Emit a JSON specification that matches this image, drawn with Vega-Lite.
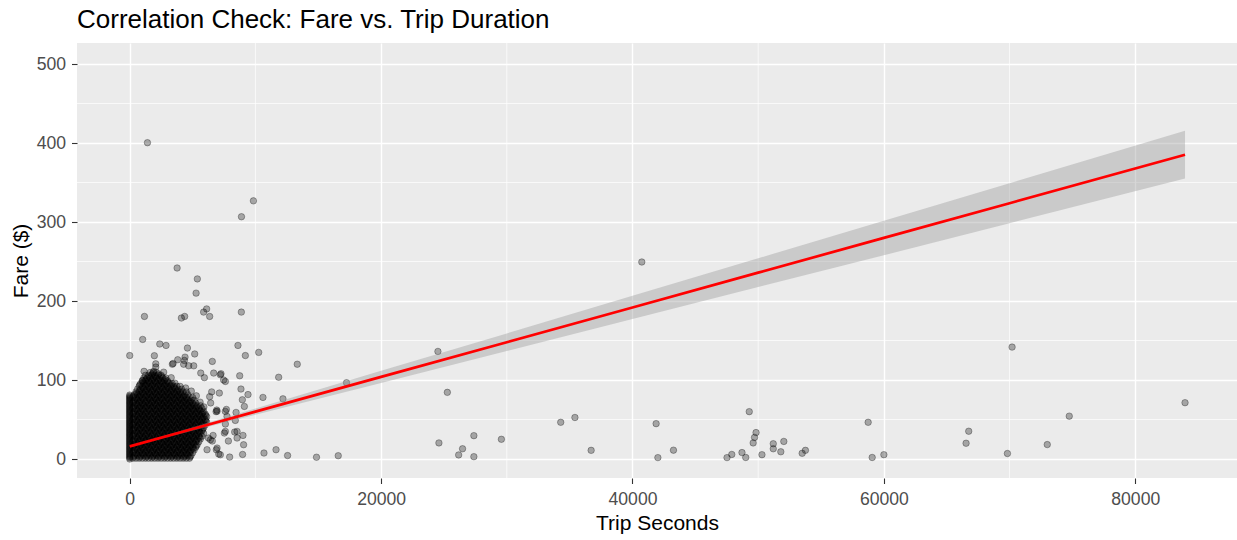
{
  "$schema": "https://vega.github.io/schema/vega-lite/v6.json",
  "width": 1160,
  "height": 435,
  "autosize": {"type": "none"},
  "padding": {"left": 77, "top": 43, "right": 0, "bottom": 62},
  "background": "#FFFFFF",
  "title": {
    "text": "Correlation Check: Fare vs. Trip Duration",
    "anchor": "start",
    "frame": "group",
    "font": "Liberation Sans",
    "fontSize": 26,
    "fontWeight": "normal",
    "color": "#000000",
    "offset": 10
  },
  "config": {
    "font": "Liberation Sans",
    "view": {"fill": "#EBEBEB", "stroke": null},
    "axis": {
      "grid": true, "gridColor": "#FFFFFF", "gridWidth": 1.4,
      "domain": false, "tickColor": "#333333", "tickSize": 5.5, "tickWidth": 1.1,
      "labelFont": "Liberation Sans", "labelFontSize": 17.6, "labelColor": "#4D4D4D", "labelFlush": false, "labelOverlap": false,
      "titleFont": "Liberation Sans", "titleFontSize": 21, "titleFontWeight": "normal", "titleColor": "#000000", "format": "d"
    },
    "axisX": {"labelPadding": 7, "titlePadding": 4},
    "axisY": {"labelPadding": 6, "titlePadding": 5}
  },
  "datasets": {
    "gridx": [{"sec": 10000}, {"sec": 30000}, {"sec": 50000}, {"sec": 70000}],
    "gridy": [{"fare": 50}, {"fare": 150}, {"fare": 250}, {"fare": 350}, {"fare": 450}],
    "fit": [
      {"sec": 0, "fit": 16.0, "lo": 15.5, "hi": 16.5},
      {"sec": 5000, "fit": 38.0, "lo": 35.7, "hi": 40.3},
      {"sec": 10000, "fit": 60.0, "lo": 56.0, "hi": 64.0},
      {"sec": 20000, "fit": 104.0, "lo": 96.4, "hi": 111.6},
      {"sec": 30000, "fit": 147.9, "lo": 136.8, "hi": 159.0},
      {"sec": 40000, "fit": 191.9, "lo": 177.2, "hi": 206.6},
      {"sec": 50000, "fit": 235.9, "lo": 217.7, "hi": 254.1},
      {"sec": 60000, "fit": 279.9, "lo": 258.1, "hi": 301.6},
      {"sec": 70000, "fit": 323.8, "lo": 298.5, "hi": 349.1},
      {"sec": 83960, "fit": 385.2, "lo": 355.0, "hi": 415.4}
    ],
    "trips": [
      {"sec":0,"fare":0},{"sec":0,"fare":1.5},{"sec":0,"fare":3},{"sec":0,"fare":4.5},{"sec":0,"fare":6},{"sec":0,"fare":7.5},{"sec":0,"fare":9},{"sec":0,"fare":10.5},{"sec":0,"fare":12},{"sec":0,"fare":13.5},{"sec":0,"fare":15},{"sec":0,"fare":16.5},{"sec":0,"fare":18},{"sec":0,"fare":19.5},{"sec":0,"fare":21},{"sec":0,"fare":22.5},{"sec":0,"fare":24},{"sec":0,"fare":25.5},{"sec":0,"fare":27},{"sec":0,"fare":28.5},{"sec":0,"fare":30},{"sec":0,"fare":31.5},{"sec":0,"fare":33},{"sec":0,"fare":34.5},{"sec":0,"fare":36},{"sec":0,"fare":37.5},{"sec":0,"fare":39},{"sec":0,"fare":40.5},{"sec":0,"fare":42},{"sec":0,"fare":43.5},{"sec":0,"fare":45},{"sec":0,"fare":46.5},{"sec":0,"fare":48},{"sec":0,"fare":49.5},{"sec":0,"fare":51},{"sec":0,"fare":52.5},{"sec":0,"fare":54},{"sec":0,"fare":55.5},{"sec":0,"fare":57},{"sec":0,"fare":58.5},{"sec":0,"fare":60},{"sec":0,"fare":61.5},{"sec":0,"fare":63},{"sec":0,"fare":64.5},{"sec":0,"fare":66},{"sec":0,"fare":67.5},{"sec":0,"fare":69},{"sec":0,"fare":70.5},{"sec":0,"fare":72},{"sec":0,"fare":73.5},{"sec":0,"fare":75},{"sec":0,"fare":76.5},{"sec":0,"fare":78},{"sec":0,"fare":79.5},{"sec":0,"fare":81},

      {"sec":250,"fare":1},{"sec":500,"fare":1},{"sec":750,"fare":1},{"sec":1000,"fare":1},{"sec":1250,"fare":1},{"sec":1500,"fare":1},{"sec":1750,"fare":1},{"sec":2000,"fare":1},{"sec":2250,"fare":1},{"sec":2500,"fare":1},{"sec":2750,"fare":1},{"sec":3000,"fare":1},{"sec":3250,"fare":1},{"sec":3500,"fare":1},{"sec":3750,"fare":1},{"sec":4000,"fare":1},{"sec":4250,"fare":1},{"sec":4500,"fare":1},{"sec":4750,"fare":1},
      {"sec":375,"fare":4.5},{"sec":625,"fare":4.5},{"sec":875,"fare":4.5},{"sec":1125,"fare":4.5},{"sec":1375,"fare":4.5},{"sec":1625,"fare":4.5},{"sec":1875,"fare":4.5},{"sec":2125,"fare":4.5},{"sec":2375,"fare":4.5},{"sec":2625,"fare":4.5},{"sec":2875,"fare":4.5},{"sec":3125,"fare":4.5},{"sec":3375,"fare":4.5},{"sec":3625,"fare":4.5},{"sec":3875,"fare":4.5},{"sec":4125,"fare":4.5},{"sec":4375,"fare":4.5},{"sec":4625,"fare":4.5},{"sec":4875,"fare":4.5},
      {"sec":250,"fare":8},{"sec":500,"fare":8},{"sec":750,"fare":8},{"sec":1000,"fare":8},{"sec":1250,"fare":8},{"sec":1500,"fare":8},{"sec":1750,"fare":8},{"sec":2000,"fare":8},{"sec":2250,"fare":8},{"sec":2500,"fare":8},{"sec":2750,"fare":8},{"sec":3000,"fare":8},{"sec":3250,"fare":8},{"sec":3500,"fare":8},{"sec":3750,"fare":8},{"sec":4000,"fare":8},{"sec":4250,"fare":8},{"sec":4500,"fare":8},{"sec":4750,"fare":8},{"sec":5000,"fare":8},
      {"sec":375,"fare":11.5},{"sec":625,"fare":11.5},{"sec":875,"fare":11.5},{"sec":1125,"fare":11.5},{"sec":1375,"fare":11.5},{"sec":1625,"fare":11.5},{"sec":1875,"fare":11.5},{"sec":2125,"fare":11.5},{"sec":2375,"fare":11.5},{"sec":2625,"fare":11.5},{"sec":2875,"fare":11.5},{"sec":3125,"fare":11.5},{"sec":3375,"fare":11.5},{"sec":3625,"fare":11.5},{"sec":3875,"fare":11.5},{"sec":4125,"fare":11.5},{"sec":4375,"fare":11.5},{"sec":4625,"fare":11.5},{"sec":4875,"fare":11.5},{"sec":5125,"fare":11.5},
      {"sec":250,"fare":15},{"sec":500,"fare":15},{"sec":750,"fare":15},{"sec":1000,"fare":15},{"sec":1250,"fare":15},{"sec":1500,"fare":15},{"sec":1750,"fare":15},{"sec":2000,"fare":15},{"sec":2250,"fare":15},{"sec":2500,"fare":15},{"sec":2750,"fare":15},{"sec":3000,"fare":15},{"sec":3250,"fare":15},{"sec":3500,"fare":15},{"sec":3750,"fare":15},{"sec":4000,"fare":15},{"sec":4250,"fare":15},{"sec":4500,"fare":15},{"sec":4750,"fare":15},{"sec":5000,"fare":15},{"sec":5250,"fare":15},
      {"sec":375,"fare":18.5},{"sec":625,"fare":18.5},{"sec":875,"fare":18.5},{"sec":1125,"fare":18.5},{"sec":1375,"fare":18.5},{"sec":1625,"fare":18.5},{"sec":1875,"fare":18.5},{"sec":2125,"fare":18.5},{"sec":2375,"fare":18.5},{"sec":2625,"fare":18.5},{"sec":2875,"fare":18.5},{"sec":3125,"fare":18.5},{"sec":3375,"fare":18.5},{"sec":3625,"fare":18.5},{"sec":3875,"fare":18.5},{"sec":4125,"fare":18.5},{"sec":4375,"fare":18.5},{"sec":4625,"fare":18.5},{"sec":4875,"fare":18.5},{"sec":5125,"fare":18.5},{"sec":5375,"fare":18.5},
      {"sec":250,"fare":22},{"sec":500,"fare":22},{"sec":750,"fare":22},{"sec":1000,"fare":22},{"sec":1250,"fare":22},{"sec":1500,"fare":22},{"sec":1750,"fare":22},{"sec":2000,"fare":22},{"sec":2250,"fare":22},{"sec":2500,"fare":22},{"sec":2750,"fare":22},{"sec":3000,"fare":22},{"sec":3250,"fare":22},{"sec":3500,"fare":22},{"sec":3750,"fare":22},{"sec":4000,"fare":22},{"sec":4250,"fare":22},{"sec":4500,"fare":22},{"sec":4750,"fare":22},{"sec":5000,"fare":22},{"sec":5250,"fare":22},{"sec":5500,"fare":22},
      {"sec":375,"fare":25.5},{"sec":625,"fare":25.5},{"sec":875,"fare":25.5},{"sec":1125,"fare":25.5},{"sec":1375,"fare":25.5},{"sec":1625,"fare":25.5},{"sec":1875,"fare":25.5},{"sec":2125,"fare":25.5},{"sec":2375,"fare":25.5},{"sec":2625,"fare":25.5},{"sec":2875,"fare":25.5},{"sec":3125,"fare":25.5},{"sec":3375,"fare":25.5},{"sec":3625,"fare":25.5},{"sec":3875,"fare":25.5},{"sec":4125,"fare":25.5},{"sec":4375,"fare":25.5},{"sec":4625,"fare":25.5},{"sec":4875,"fare":25.5},{"sec":5125,"fare":25.5},{"sec":5375,"fare":25.5},{"sec":5625,"fare":25.5},
      {"sec":250,"fare":29},{"sec":500,"fare":29},{"sec":750,"fare":29},{"sec":1000,"fare":29},{"sec":1250,"fare":29},{"sec":1500,"fare":29},{"sec":1750,"fare":29},{"sec":2000,"fare":29},{"sec":2250,"fare":29},{"sec":2500,"fare":29},{"sec":2750,"fare":29},{"sec":3000,"fare":29},{"sec":3250,"fare":29},{"sec":3500,"fare":29},{"sec":3750,"fare":29},{"sec":4000,"fare":29},{"sec":4250,"fare":29},{"sec":4500,"fare":29},{"sec":4750,"fare":29},{"sec":5000,"fare":29},{"sec":5250,"fare":29},{"sec":5500,"fare":29},{"sec":5750,"fare":29},
      {"sec":375,"fare":32.5},{"sec":625,"fare":32.5},{"sec":875,"fare":32.5},{"sec":1125,"fare":32.5},{"sec":1375,"fare":32.5},{"sec":1625,"fare":32.5},{"sec":1875,"fare":32.5},{"sec":2125,"fare":32.5},{"sec":2375,"fare":32.5},{"sec":2625,"fare":32.5},{"sec":2875,"fare":32.5},{"sec":3125,"fare":32.5},{"sec":3375,"fare":32.5},{"sec":3625,"fare":32.5},{"sec":3875,"fare":32.5},{"sec":4125,"fare":32.5},{"sec":4375,"fare":32.5},{"sec":4625,"fare":32.5},{"sec":4875,"fare":32.5},{"sec":5125,"fare":32.5},{"sec":5375,"fare":32.5},{"sec":5625,"fare":32.5},{"sec":5875,"fare":32.5},
      {"sec":250,"fare":36},{"sec":500,"fare":36},{"sec":750,"fare":36},{"sec":1000,"fare":36},{"sec":1250,"fare":36},{"sec":1500,"fare":36},{"sec":1750,"fare":36},{"sec":2000,"fare":36},{"sec":2250,"fare":36},{"sec":2500,"fare":36},{"sec":2750,"fare":36},{"sec":3000,"fare":36},{"sec":3250,"fare":36},{"sec":3500,"fare":36},{"sec":3750,"fare":36},{"sec":4000,"fare":36},{"sec":4250,"fare":36},{"sec":4500,"fare":36},{"sec":4750,"fare":36},{"sec":5000,"fare":36},{"sec":5250,"fare":36},{"sec":5500,"fare":36},{"sec":5750,"fare":36},
      {"sec":375,"fare":39.5},{"sec":625,"fare":39.5},{"sec":875,"fare":39.5},{"sec":1125,"fare":39.5},{"sec":1375,"fare":39.5},{"sec":1625,"fare":39.5},{"sec":1875,"fare":39.5},{"sec":2125,"fare":39.5},{"sec":2375,"fare":39.5},{"sec":2625,"fare":39.5},{"sec":2875,"fare":39.5},{"sec":3125,"fare":39.5},{"sec":3375,"fare":39.5},{"sec":3625,"fare":39.5},{"sec":3875,"fare":39.5},{"sec":4125,"fare":39.5},{"sec":4375,"fare":39.5},{"sec":4625,"fare":39.5},{"sec":4875,"fare":39.5},{"sec":5125,"fare":39.5},{"sec":5375,"fare":39.5},{"sec":5625,"fare":39.5},{"sec":5875,"fare":39.5},
      {"sec":250,"fare":43},{"sec":500,"fare":43},{"sec":750,"fare":43},{"sec":1000,"fare":43},{"sec":1250,"fare":43},{"sec":1500,"fare":43},{"sec":1750,"fare":43},{"sec":2000,"fare":43},{"sec":2250,"fare":43},{"sec":2500,"fare":43},{"sec":2750,"fare":43},{"sec":3000,"fare":43},{"sec":3250,"fare":43},{"sec":3500,"fare":43},{"sec":3750,"fare":43},{"sec":4000,"fare":43},{"sec":4250,"fare":43},{"sec":4500,"fare":43},{"sec":4750,"fare":43},{"sec":5000,"fare":43},{"sec":5250,"fare":43},{"sec":5500,"fare":43},{"sec":5750,"fare":43},{"sec":6000,"fare":43},
      {"sec":375,"fare":46.5},{"sec":625,"fare":46.5},{"sec":875,"fare":46.5},{"sec":1125,"fare":46.5},{"sec":1375,"fare":46.5},{"sec":1625,"fare":46.5},{"sec":1875,"fare":46.5},{"sec":2125,"fare":46.5},{"sec":2375,"fare":46.5},{"sec":2625,"fare":46.5},{"sec":2875,"fare":46.5},{"sec":3125,"fare":46.5},{"sec":3375,"fare":46.5},{"sec":3625,"fare":46.5},{"sec":3875,"fare":46.5},{"sec":4125,"fare":46.5},{"sec":4375,"fare":46.5},{"sec":4625,"fare":46.5},{"sec":4875,"fare":46.5},{"sec":5125,"fare":46.5},{"sec":5375,"fare":46.5},{"sec":5625,"fare":46.5},{"sec":5875,"fare":46.5},{"sec":6125,"fare":46.5},
      {"sec":250,"fare":50},{"sec":500,"fare":50},{"sec":750,"fare":50},{"sec":1000,"fare":50},{"sec":1250,"fare":50},{"sec":1500,"fare":50},{"sec":1750,"fare":50},{"sec":2000,"fare":50},{"sec":2250,"fare":50},{"sec":2500,"fare":50},{"sec":2750,"fare":50},{"sec":3000,"fare":50},{"sec":3250,"fare":50},{"sec":3500,"fare":50},{"sec":3750,"fare":50},{"sec":4000,"fare":50},{"sec":4250,"fare":50},{"sec":4500,"fare":50},{"sec":4750,"fare":50},{"sec":5000,"fare":50},{"sec":5250,"fare":50},{"sec":5500,"fare":50},{"sec":5750,"fare":50},{"sec":6000,"fare":50},
      {"sec":375,"fare":53.5},{"sec":625,"fare":53.5},{"sec":875,"fare":53.5},{"sec":1125,"fare":53.5},{"sec":1375,"fare":53.5},{"sec":1625,"fare":53.5},{"sec":1875,"fare":53.5},{"sec":2125,"fare":53.5},{"sec":2375,"fare":53.5},{"sec":2625,"fare":53.5},{"sec":2875,"fare":53.5},{"sec":3125,"fare":53.5},{"sec":3375,"fare":53.5},{"sec":3625,"fare":53.5},{"sec":3875,"fare":53.5},{"sec":4125,"fare":53.5},{"sec":4375,"fare":53.5},{"sec":4625,"fare":53.5},{"sec":4875,"fare":53.5},{"sec":5125,"fare":53.5},{"sec":5375,"fare":53.5},{"sec":5625,"fare":53.5},{"sec":5875,"fare":53.5},{"sec":6125,"fare":53.5},
      {"sec":250,"fare":57},{"sec":500,"fare":57},{"sec":750,"fare":57},{"sec":1000,"fare":57},{"sec":1250,"fare":57},{"sec":1500,"fare":57},{"sec":1750,"fare":57},{"sec":2000,"fare":57},{"sec":2250,"fare":57},{"sec":2500,"fare":57},{"sec":2750,"fare":57},{"sec":3000,"fare":57},{"sec":3250,"fare":57},{"sec":3500,"fare":57},{"sec":3750,"fare":57},{"sec":4000,"fare":57},{"sec":4250,"fare":57},{"sec":4500,"fare":57},{"sec":4750,"fare":57},{"sec":5000,"fare":57},{"sec":5250,"fare":57},{"sec":5500,"fare":57},{"sec":5750,"fare":57},{"sec":6000,"fare":57},
      {"sec":375,"fare":60.5},{"sec":625,"fare":60.5},{"sec":875,"fare":60.5},{"sec":1125,"fare":60.5},{"sec":1375,"fare":60.5},{"sec":1625,"fare":60.5},{"sec":1875,"fare":60.5},{"sec":2125,"fare":60.5},{"sec":2375,"fare":60.5},{"sec":2625,"fare":60.5},{"sec":2875,"fare":60.5},{"sec":3125,"fare":60.5},{"sec":3375,"fare":60.5},{"sec":3625,"fare":60.5},{"sec":3875,"fare":60.5},{"sec":4125,"fare":60.5},{"sec":4375,"fare":60.5},{"sec":4625,"fare":60.5},{"sec":4875,"fare":60.5},{"sec":5125,"fare":60.5},{"sec":5375,"fare":60.5},{"sec":5625,"fare":60.5},{"sec":5875,"fare":60.5},
      {"sec":250,"fare":64},{"sec":500,"fare":64},{"sec":750,"fare":64},{"sec":1000,"fare":64},{"sec":1250,"fare":64},{"sec":1500,"fare":64},{"sec":1750,"fare":64},{"sec":2000,"fare":64},{"sec":2250,"fare":64},{"sec":2500,"fare":64},{"sec":2750,"fare":64},{"sec":3000,"fare":64},{"sec":3250,"fare":64},{"sec":3500,"fare":64},{"sec":3750,"fare":64},{"sec":4000,"fare":64},{"sec":4250,"fare":64},{"sec":4500,"fare":64},{"sec":4750,"fare":64},{"sec":5000,"fare":64},{"sec":5250,"fare":64},{"sec":5500,"fare":64},{"sec":5750,"fare":64},
      {"sec":375,"fare":67.5},{"sec":625,"fare":67.5},{"sec":875,"fare":67.5},{"sec":1125,"fare":67.5},{"sec":1375,"fare":67.5},{"sec":1625,"fare":67.5},{"sec":1875,"fare":67.5},{"sec":2125,"fare":67.5},{"sec":2375,"fare":67.5},{"sec":2625,"fare":67.5},{"sec":2875,"fare":67.5},{"sec":3125,"fare":67.5},{"sec":3375,"fare":67.5},{"sec":3625,"fare":67.5},{"sec":3875,"fare":67.5},{"sec":4125,"fare":67.5},{"sec":4375,"fare":67.5},{"sec":4625,"fare":67.5},{"sec":4875,"fare":67.5},{"sec":5125,"fare":67.5},{"sec":5375,"fare":67.5},{"sec":5625,"fare":67.5},
      {"sec":250,"fare":71},{"sec":500,"fare":71},{"sec":750,"fare":71},{"sec":1000,"fare":71},{"sec":1250,"fare":71},{"sec":1500,"fare":71},{"sec":1750,"fare":71},{"sec":2000,"fare":71},{"sec":2250,"fare":71},{"sec":2500,"fare":71},{"sec":2750,"fare":71},{"sec":3000,"fare":71},{"sec":3250,"fare":71},{"sec":3500,"fare":71},{"sec":3750,"fare":71},{"sec":4000,"fare":71},{"sec":4250,"fare":71},{"sec":4500,"fare":71},{"sec":4750,"fare":71},{"sec":5000,"fare":71},{"sec":5250,"fare":71},
      {"sec":375,"fare":74.5},{"sec":625,"fare":74.5},{"sec":875,"fare":74.5},{"sec":1125,"fare":74.5},{"sec":1375,"fare":74.5},{"sec":1625,"fare":74.5},{"sec":1875,"fare":74.5},{"sec":2125,"fare":74.5},{"sec":2375,"fare":74.5},{"sec":2625,"fare":74.5},{"sec":2875,"fare":74.5},{"sec":3125,"fare":74.5},{"sec":3375,"fare":74.5},{"sec":3625,"fare":74.5},{"sec":3875,"fare":74.5},{"sec":4125,"fare":74.5},{"sec":4375,"fare":74.5},{"sec":4625,"fare":74.5},{"sec":4875,"fare":74.5},{"sec":5125,"fare":74.5},
      {"sec":250,"fare":78},{"sec":500,"fare":78},{"sec":750,"fare":78},{"sec":1000,"fare":78},{"sec":1250,"fare":78},{"sec":1500,"fare":78},{"sec":1750,"fare":78},{"sec":2000,"fare":78},{"sec":2250,"fare":78},{"sec":2500,"fare":78},{"sec":2750,"fare":78},{"sec":3000,"fare":78},{"sec":3250,"fare":78},{"sec":3500,"fare":78},{"sec":3750,"fare":78},{"sec":4000,"fare":78},{"sec":4250,"fare":78},{"sec":4500,"fare":78},{"sec":4750,"fare":78},{"sec":5000,"fare":78},
      {"sec":375,"fare":81.5},{"sec":625,"fare":81.5},{"sec":875,"fare":81.5},{"sec":1125,"fare":81.5},{"sec":1375,"fare":81.5},{"sec":1625,"fare":81.5},{"sec":1875,"fare":81.5},{"sec":2125,"fare":81.5},{"sec":2375,"fare":81.5},{"sec":2625,"fare":81.5},{"sec":2875,"fare":81.5},{"sec":3125,"fare":81.5},{"sec":3375,"fare":81.5},{"sec":3625,"fare":81.5},{"sec":3875,"fare":81.5},{"sec":4125,"fare":81.5},{"sec":4375,"fare":81.5},{"sec":4625,"fare":81.5},
      {"sec":500,"fare":85},{"sec":750,"fare":85},{"sec":1000,"fare":85},{"sec":1250,"fare":85},{"sec":1500,"fare":85},{"sec":1750,"fare":85},{"sec":2000,"fare":85},{"sec":2250,"fare":85},{"sec":2500,"fare":85},{"sec":2750,"fare":85},{"sec":3000,"fare":85},{"sec":3250,"fare":85},{"sec":3500,"fare":85},{"sec":3750,"fare":85},{"sec":4000,"fare":85},{"sec":4250,"fare":85},{"sec":4500,"fare":85},
      {"sec":625,"fare":88.5},{"sec":875,"fare":88.5},{"sec":1125,"fare":88.5},{"sec":1375,"fare":88.5},{"sec":1625,"fare":88.5},{"sec":1875,"fare":88.5},{"sec":2125,"fare":88.5},{"sec":2375,"fare":88.5},{"sec":2625,"fare":88.5},{"sec":2875,"fare":88.5},{"sec":3125,"fare":88.5},{"sec":3375,"fare":88.5},{"sec":3625,"fare":88.5},{"sec":3875,"fare":88.5},{"sec":4125,"fare":88.5},
      {"sec":750,"fare":92},{"sec":1000,"fare":92},{"sec":1250,"fare":92},{"sec":1500,"fare":92},{"sec":1750,"fare":92},{"sec":2000,"fare":92},{"sec":2250,"fare":92},{"sec":2500,"fare":92},{"sec":2750,"fare":92},{"sec":3000,"fare":92},{"sec":3250,"fare":92},{"sec":3500,"fare":92},{"sec":3750,"fare":92},
      {"sec":875,"fare":95.5},{"sec":1125,"fare":95.5},{"sec":1375,"fare":95.5},{"sec":1625,"fare":95.5},{"sec":1875,"fare":95.5},{"sec":2125,"fare":95.5},{"sec":2375,"fare":95.5},{"sec":2625,"fare":95.5},{"sec":2875,"fare":95.5},{"sec":3125,"fare":95.5},{"sec":3375,"fare":95.5},
      {"sec":1000,"fare":99},{"sec":1250,"fare":99},{"sec":1500,"fare":99},{"sec":1750,"fare":99},{"sec":2000,"fare":99},{"sec":2250,"fare":99},{"sec":2500,"fare":99},{"sec":2750,"fare":99},{"sec":3000,"fare":99},
      {"sec":1125,"fare":102.5},{"sec":1375,"fare":102.5},{"sec":1625,"fare":102.5},{"sec":1875,"fare":102.5},{"sec":2125,"fare":102.5},{"sec":2375,"fare":102.5},{"sec":2625,"fare":102.5},{"sec":2875,"fare":102.5},
      {"sec":1250,"fare":106},{"sec":1500,"fare":106},{"sec":1750,"fare":106},{"sec":2000,"fare":106},{"sec":2250,"fare":106},{"sec":2500,"fare":106},
      {"sec":1625,"fare":109.5},{"sec":1875,"fare":109.5},{"sec":2125,"fare":109.5},

      {"sec":300,"fare":2.75},{"sec":800,"fare":2.75},{"sec":1300,"fare":2.75},{"sec":1800,"fare":2.75},{"sec":2300,"fare":2.75},{"sec":2800,"fare":2.75},{"sec":3300,"fare":2.75},{"sec":3800,"fare":2.75},{"sec":4300,"fare":2.75},{"sec":4800,"fare":2.75},
      {"sec":550,"fare":6.25},{"sec":1050,"fare":6.25},{"sec":1550,"fare":6.25},{"sec":2050,"fare":6.25},{"sec":2550,"fare":6.25},{"sec":3050,"fare":6.25},{"sec":3550,"fare":6.25},{"sec":4050,"fare":6.25},{"sec":4550,"fare":6.25},
      {"sec":300,"fare":9.75},{"sec":800,"fare":9.75},{"sec":1300,"fare":9.75},{"sec":1800,"fare":9.75},{"sec":2300,"fare":9.75},{"sec":2800,"fare":9.75},{"sec":3300,"fare":9.75},{"sec":3800,"fare":9.75},{"sec":4300,"fare":9.75},{"sec":4800,"fare":9.75},
      {"sec":550,"fare":13.25},{"sec":1050,"fare":13.25},{"sec":1550,"fare":13.25},{"sec":2050,"fare":13.25},{"sec":2550,"fare":13.25},{"sec":3050,"fare":13.25},{"sec":3550,"fare":13.25},{"sec":4050,"fare":13.25},{"sec":4550,"fare":13.25},{"sec":5050,"fare":13.25},
      {"sec":300,"fare":16.75},{"sec":800,"fare":16.75},{"sec":1300,"fare":16.75},{"sec":1800,"fare":16.75},{"sec":2300,"fare":16.75},{"sec":2800,"fare":16.75},{"sec":3300,"fare":16.75},{"sec":3800,"fare":16.75},{"sec":4300,"fare":16.75},{"sec":4800,"fare":16.75},{"sec":5300,"fare":16.75},
      {"sec":550,"fare":20.25},{"sec":1050,"fare":20.25},{"sec":1550,"fare":20.25},{"sec":2050,"fare":20.25},{"sec":2550,"fare":20.25},{"sec":3050,"fare":20.25},{"sec":3550,"fare":20.25},{"sec":4050,"fare":20.25},{"sec":4550,"fare":20.25},{"sec":5050,"fare":20.25},
      {"sec":300,"fare":23.75},{"sec":800,"fare":23.75},{"sec":1300,"fare":23.75},{"sec":1800,"fare":23.75},{"sec":2300,"fare":23.75},{"sec":2800,"fare":23.75},{"sec":3300,"fare":23.75},{"sec":3800,"fare":23.75},{"sec":4300,"fare":23.75},{"sec":4800,"fare":23.75},{"sec":5300,"fare":23.75},
      {"sec":550,"fare":27.25},{"sec":1050,"fare":27.25},{"sec":1550,"fare":27.25},{"sec":2050,"fare":27.25},{"sec":2550,"fare":27.25},{"sec":3050,"fare":27.25},{"sec":3550,"fare":27.25},{"sec":4050,"fare":27.25},{"sec":4550,"fare":27.25},{"sec":5050,"fare":27.25},{"sec":5550,"fare":27.25},
      {"sec":300,"fare":30.75},{"sec":800,"fare":30.75},{"sec":1300,"fare":30.75},{"sec":1800,"fare":30.75},{"sec":2300,"fare":30.75},{"sec":2800,"fare":30.75},{"sec":3300,"fare":30.75},{"sec":3800,"fare":30.75},{"sec":4300,"fare":30.75},{"sec":4800,"fare":30.75},{"sec":5300,"fare":30.75},
      {"sec":550,"fare":34.25},{"sec":1050,"fare":34.25},{"sec":1550,"fare":34.25},{"sec":2050,"fare":34.25},{"sec":2550,"fare":34.25},{"sec":3050,"fare":34.25},{"sec":3550,"fare":34.25},{"sec":4050,"fare":34.25},{"sec":4550,"fare":34.25},{"sec":5050,"fare":34.25},{"sec":5550,"fare":34.25},
      {"sec":300,"fare":37.75},{"sec":800,"fare":37.75},{"sec":1300,"fare":37.75},{"sec":1800,"fare":37.75},{"sec":2300,"fare":37.75},{"sec":2800,"fare":37.75},{"sec":3300,"fare":37.75},{"sec":3800,"fare":37.75},{"sec":4300,"fare":37.75},{"sec":4800,"fare":37.75},{"sec":5300,"fare":37.75},{"sec":5800,"fare":37.75},
      {"sec":550,"fare":41.25},{"sec":1050,"fare":41.25},{"sec":1550,"fare":41.25},{"sec":2050,"fare":41.25},{"sec":2550,"fare":41.25},{"sec":3050,"fare":41.25},{"sec":3550,"fare":41.25},{"sec":4050,"fare":41.25},{"sec":4550,"fare":41.25},{"sec":5050,"fare":41.25},{"sec":5550,"fare":41.25},
      {"sec":300,"fare":44.75},{"sec":800,"fare":44.75},{"sec":1300,"fare":44.75},{"sec":1800,"fare":44.75},{"sec":2300,"fare":44.75},{"sec":2800,"fare":44.75},{"sec":3300,"fare":44.75},{"sec":3800,"fare":44.75},{"sec":4300,"fare":44.75},{"sec":4800,"fare":44.75},{"sec":5300,"fare":44.75},{"sec":5800,"fare":44.75},
      {"sec":550,"fare":48.25},{"sec":1050,"fare":48.25},{"sec":1550,"fare":48.25},{"sec":2050,"fare":48.25},{"sec":2550,"fare":48.25},{"sec":3050,"fare":48.25},{"sec":3550,"fare":48.25},{"sec":4050,"fare":48.25},{"sec":4550,"fare":48.25},{"sec":5050,"fare":48.25},{"sec":5550,"fare":48.25},{"sec":6050,"fare":48.25},
      {"sec":300,"fare":51.75},{"sec":800,"fare":51.75},{"sec":1300,"fare":51.75},{"sec":1800,"fare":51.75},{"sec":2300,"fare":51.75},{"sec":2800,"fare":51.75},{"sec":3300,"fare":51.75},{"sec":3800,"fare":51.75},{"sec":4300,"fare":51.75},{"sec":4800,"fare":51.75},{"sec":5300,"fare":51.75},{"sec":5800,"fare":51.75},
      {"sec":550,"fare":55.25},{"sec":1050,"fare":55.25},{"sec":1550,"fare":55.25},{"sec":2050,"fare":55.25},{"sec":2550,"fare":55.25},{"sec":3050,"fare":55.25},{"sec":3550,"fare":55.25},{"sec":4050,"fare":55.25},{"sec":4550,"fare":55.25},{"sec":5050,"fare":55.25},{"sec":5550,"fare":55.25},{"sec":6050,"fare":55.25},
      {"sec":300,"fare":58.75},{"sec":800,"fare":58.75},{"sec":1300,"fare":58.75},{"sec":1800,"fare":58.75},{"sec":2300,"fare":58.75},{"sec":2800,"fare":58.75},{"sec":3300,"fare":58.75},{"sec":3800,"fare":58.75},{"sec":4300,"fare":58.75},{"sec":4800,"fare":58.75},{"sec":5300,"fare":58.75},{"sec":5800,"fare":58.75},
      {"sec":550,"fare":62.25},{"sec":1050,"fare":62.25},{"sec":1550,"fare":62.25},{"sec":2050,"fare":62.25},{"sec":2550,"fare":62.25},{"sec":3050,"fare":62.25},{"sec":3550,"fare":62.25},{"sec":4050,"fare":62.25},{"sec":4550,"fare":62.25},{"sec":5050,"fare":62.25},{"sec":5550,"fare":62.25},
      {"sec":300,"fare":65.75},{"sec":800,"fare":65.75},{"sec":1300,"fare":65.75},{"sec":1800,"fare":65.75},{"sec":2300,"fare":65.75},{"sec":2800,"fare":65.75},{"sec":3300,"fare":65.75},{"sec":3800,"fare":65.75},{"sec":4300,"fare":65.75},{"sec":4800,"fare":65.75},{"sec":5300,"fare":65.75},
      {"sec":550,"fare":69.25},{"sec":1050,"fare":69.25},{"sec":1550,"fare":69.25},{"sec":2050,"fare":69.25},{"sec":2550,"fare":69.25},{"sec":3050,"fare":69.25},{"sec":3550,"fare":69.25},{"sec":4050,"fare":69.25},{"sec":4550,"fare":69.25},{"sec":5050,"fare":69.25},
      {"sec":300,"fare":72.75},{"sec":800,"fare":72.75},{"sec":1300,"fare":72.75},{"sec":1800,"fare":72.75},{"sec":2300,"fare":72.75},{"sec":2800,"fare":72.75},{"sec":3300,"fare":72.75},{"sec":3800,"fare":72.75},{"sec":4300,"fare":72.75},{"sec":4800,"fare":72.75},
      {"sec":550,"fare":76.25},{"sec":1050,"fare":76.25},{"sec":1550,"fare":76.25},{"sec":2050,"fare":76.25},{"sec":2550,"fare":76.25},{"sec":3050,"fare":76.25},{"sec":3550,"fare":76.25},{"sec":4050,"fare":76.25},{"sec":4550,"fare":76.25},
      {"sec":300,"fare":79.75},{"sec":800,"fare":79.75},{"sec":1300,"fare":79.75},{"sec":1800,"fare":79.75},{"sec":2300,"fare":79.75},{"sec":2800,"fare":79.75},{"sec":3300,"fare":79.75},{"sec":3800,"fare":79.75},{"sec":4300,"fare":79.75},
      {"sec":550,"fare":83.25},{"sec":1050,"fare":83.25},{"sec":1550,"fare":83.25},{"sec":2050,"fare":83.25},{"sec":2550,"fare":83.25},{"sec":3050,"fare":83.25},{"sec":3550,"fare":83.25},{"sec":4050,"fare":83.25},
      {"sec":800,"fare":86.75},{"sec":1300,"fare":86.75},{"sec":1800,"fare":86.75},{"sec":2300,"fare":86.75},{"sec":2800,"fare":86.75},{"sec":3300,"fare":86.75},{"sec":3800,"fare":86.75},
      {"sec":1050,"fare":90.25},{"sec":1550,"fare":90.25},{"sec":2050,"fare":90.25},{"sec":2550,"fare":90.25},{"sec":3050,"fare":90.25},{"sec":3550,"fare":90.25},
      {"sec":800,"fare":93.75},{"sec":1300,"fare":93.75},{"sec":1800,"fare":93.75},{"sec":2300,"fare":93.75},{"sec":2800,"fare":93.75},{"sec":3300,"fare":93.75},
      {"sec":1050,"fare":97.25},{"sec":1550,"fare":97.25},{"sec":2050,"fare":97.25},{"sec":2550,"fare":97.25},{"sec":3050,"fare":97.25},
      {"sec":1300,"fare":100.75},{"sec":1800,"fare":100.75},{"sec":2300,"fare":100.75},{"sec":2800,"fare":100.75},
      {"sec":1550,"fare":104.25},{"sec":2050,"fare":104.25},{"sec":2550,"fare":104.25},
      {"sec":1800,"fare":107.75},{"sec":2300,"fare":107.75},

      {"sec":0,"fare":131},{"sec":1030,"fare":151.4},{"sec":1410,"fare":400.4},{"sec":1170,"fare":180.5},{"sec":1140,"fare":111},{"sec":1030,"fare":99.5},{"sec":1910,"fare":111},{"sec":1960,"fare":130.8},{"sec":2070,"fare":116.4},{"sec":2070,"fare":120.5},{"sec":2390,"fare":145.6},{"sec":2890,"fare":143.8},{"sec":3390,"fare":120},{"sec":3450,"fare":121},{"sec":3770,"fare":241.8},{"sec":3820,"fare":125.7},{"sec":4110,"fare":178.5},{"sec":4290,"fare":120},{"sec":4350,"fare":124.8},{"sec":4370,"fare":180.5},{"sec":4400,"fare":129},{"sec":4590,"fare":140.5},{"sec":4690,"fare":118},{"sec":5090,"fare":118},{"sec":5170,"fare":133},{"sec":5280,"fare":210},{"sec":5380,"fare":228},{"sec":5650,"fare":108.8},{"sec":5880,"fare":186},{"sec":5940,"fare":103},{"sec":6120,"fare":190},{"sec":6150,"fare":11.8},{"sec":6260,"fare":26.6},{"sec":6360,"fare":180.5},{"sec":6360,"fare":79},{"sec":6420,"fare":24.4},{"sec":6440,"fare":71},{"sec":6520,"fare":85},{"sec":6570,"fare":123.6},{"sec":6570,"fare":22.8},{"sec":6630,"fare":29.9},{"sec":6680,"fare":108.8},{"sec":6870,"fare":60},{"sec":6950,"fare":60.5},{"sec":6920,"fare":62},{"sec":6890,"fare":11.8},{"sec":6950,"fare":13.9},{"sec":7080,"fare":6.3},{"sec":7130,"fare":83.5},{"sec":7210,"fare":106.7},{"sec":7210,"fare":5.4},{"sec":7260,"fare":108},{"sec":7470,"fare":100},{"sec":7530,"fare":32.9},{"sec":7610,"fare":98.2},{"sec":7610,"fare":60.3},{"sec":7610,"fare":44.3},{"sec":7610,"fare":35},{"sec":7690,"fare":62.8},{"sec":7740,"fare":54},{"sec":7850,"fare":22.8},{"sec":7950,"fare":2.5},{"sec":8350,"fare":34.2},{"sec":8400,"fare":48.9},{"sec":8460,"fare":59},{"sec":8540,"fare":35},{"sec":8540,"fare":26.6},{"sec":8610,"fare":143.8},{"sec":8750,"fare":105.4},{"sec":8850,"fare":88.6},{"sec":8880,"fare":186},{"sec":8890,"fare":306.7},{"sec":8960,"fare":75},{"sec":8980,"fare":5.8},{"sec":9010,"fare":29.9},{"sec":9060,"fare":18.1},{"sec":9120,"fare":66.6},{"sec":9200,"fare":131},{"sec":9410,"fare":81.6},{"sec":9840,"fare":326.8},{"sec":10260,"fare":135},{"sec":10600,"fare":78},{"sec":10680,"fare":7.6},{"sec":11640,"fare":11.8},{"sec":11850,"fare":103.5},{"sec":12190,"fare":76.2},{"sec":12560,"fare":4.4},{"sec":13330,"fare":120},{"sec":14860,"fare":2.3},{"sec":16590,"fare":4.2},{"sec":17250,"fare":96.6},
      {"sec":3600,"fare":96},{"sec":4000,"fare":92},{"sec":4450,"fare":90},{"sec":4900,"fare":86},{"sec":5300,"fare":80},{"sec":5600,"fare":72},{"sec":3300,"fare":103},{"sec":2700,"fare":110},{"sec":5900,"fare":66},
      {"sec":24520,"fare":136.2},{"sec":24600,"fare":20.4},{"sec":25270,"fare":84.4},{"sec":26170,"fare":5.2},{"sec":26480,"fare":13},{"sec":27380,"fare":29.6},{"sec":27380,"fare":3},{"sec":29570,"fare":25},{"sec":34290,"fare":46.5},{"sec":35420,"fare":52.6},{"sec":36710,"fare":11},{"sec":40740,"fare":249.4},{"sec":41880,"fare":44.8},{"sec":42020,"fare":1.8},{"sec":43260,"fare":11.2},{"sec":47520,"fare":1.8},{"sec":47900,"fare":5.8},{"sec":48710,"fare":8.2},{"sec":49010,"fare":2},{"sec":49290,"fare":60},{"sec":49600,"fare":20.4},{"sec":49710,"fare":27.4},{"sec":49830,"fare":33.5},{"sec":50300,"fare":5.5},{"sec":51200,"fare":19.4},{"sec":51200,"fare":13},{"sec":51800,"fare":9.2},{"sec":52040,"fare":22.3},{"sec":53500,"fare":7.3},{"sec":53760,"fare":11},{"sec":58750,"fare":46.5},{"sec":59070,"fare":2},{"sec":60000,"fare":5.5},{"sec":66540,"fare":20},{"sec":66750,"fare":35.2},{"sec":69830,"fare":7},{"sec":70200,"fare":141.7},{"sec":73000,"fare":18.3},{"sec":74750,"fare":54.3},{"sec":83960,"fare":71.3}
    ]
  },
  "layer": [
    {
      "data": {"name": "gridx"},
      "mark": {"type": "rule", "color": "#FFFFFF", "strokeWidth": 0.7},
      "encoding": {
        "x": {"field": "sec", "type": "quantitative", "title": "Trip Seconds", "scale": {"domain": [-4195, 88095], "nice": false, "zero": false}, "axis": {"values": [0, 20000, 40000, 60000, 80000]}}
      }
    },
    {
      "data": {"name": "gridy"},
      "mark": {"type": "rule", "color": "#FFFFFF", "strokeWidth": 0.7},
      "encoding": {
        "y": {"field": "fare", "type": "quantitative", "title": "Fare ($)", "scale": {"domain": [-24, 526.6], "nice": false, "zero": false}, "axis": {"values": [0, 100, 200, 300, 400, 500]}}
      }
    },
    {
      "data": {"name": "trips"},
      "mark": {"type": "circle", "size": 42, "fill": "#000000", "fillOpacity": 0.3, "stroke": "#000000", "strokeOpacity": 0.3, "strokeWidth": 1},
      "encoding": {
        "x": {"field": "sec", "type": "quantitative", "title": "Trip Seconds", "scale": {"domain": [-4195, 88095], "nice": false, "zero": false}, "axis": {"values": [0, 20000, 40000, 60000, 80000]}},
        "y": {"field": "fare", "type": "quantitative", "title": "Fare ($)", "scale": {"domain": [-24, 526.6], "nice": false, "zero": false}, "axis": {"values": [0, 100, 200, 300, 400, 500]}}
      }
    },
    {
      "data": {"name": "fit"},
      "mark": {"type": "area", "fill": "#999999", "opacity": 0.4},
      "encoding": {
        "x": {"field": "sec", "type": "quantitative", "title": "Trip Seconds", "scale": {"domain": [-4195, 88095], "nice": false, "zero": false}, "axis": {"values": [0, 20000, 40000, 60000, 80000]}},
        "y": {"field": "lo", "type": "quantitative", "title": "Fare ($)", "scale": {"domain": [-24, 526.6], "nice": false, "zero": false}, "axis": {"values": [0, 100, 200, 300, 400, 500]}},
        "y2": {"field": "hi"}
      }
    },
    {
      "data": {"name": "fit"},
      "mark": {"type": "line", "color": "#FF0000", "strokeWidth": 2.7},
      "encoding": {
        "x": {"field": "sec", "type": "quantitative", "title": "Trip Seconds", "scale": {"domain": [-4195, 88095], "nice": false, "zero": false}, "axis": {"values": [0, 20000, 40000, 60000, 80000]}},
        "y": {"field": "fit", "type": "quantitative", "title": "Fare ($)", "scale": {"domain": [-24, 526.6], "nice": false, "zero": false}, "axis": {"values": [0, 100, 200, 300, 400, 500]}}
      }
    }
  ]
}
